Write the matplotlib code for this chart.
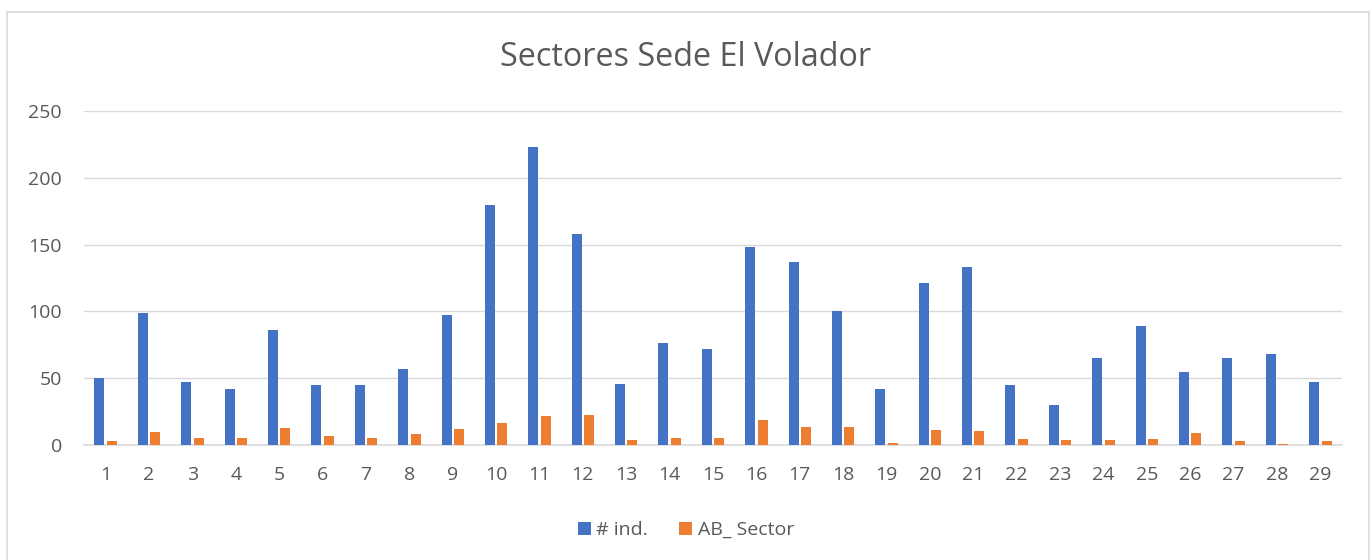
import matplotlib
matplotlib.use("Agg")
import matplotlib.pyplot as plt
import numpy as np
from matplotlib.patches import Rectangle

categories = [str(i) for i in range(1, 30)]
n_ind = [50, 99, 47, 42, 86, 45, 45, 57, 97, 180, 223, 158, 46, 76, 72,
         148, 137, 100, 42, 121, 133, 45, 30, 65, 89, 55, 65, 68, 47]
ab_sector = [3.2, 9.5, 5.5, 5.5, 12.5, 6.5, 5.3, 8.5, 12, 16.2, 22, 22.7, 3.7, 5.5, 5.5,
             18.7, 13.5, 13.5, 1.7, 11.5, 10.2, 4.7, 3.7, 4, 4.5, 9, 2.7, 0.5, 3.2]
yticks = [0, 50, 100, 150, 200, 250]

blue = "#4472C4"
orange = "#ED7D31"
txt = "#595959"

plt.rcParams['font.family'] = ['Open Sans', 'DejaVu Sans']

W, H = 1372, 560
fig = plt.figure(figsize=(W / 100, H / 100), dpi=100)
# chart border
fig.patches.append(Rectangle((7 / W, -10 / H), (1369 - 7) / W, (H - 12 + 10) / H,
                             transform=fig.transFigure, fill=False,
                             edgecolor="#d9d9d9", linewidth=1.2))

ax = fig.add_axes([84 / W, 1 - 445 / H, (1342 - 84) / W, (445 - 111) / H])
x = np.arange(len(categories))
w = 0.23
off = 0.143
ax.bar(x - off, n_ind, width=w, color=blue, label="# ind.", zorder=3)
ax.bar(x + off, ab_sector, width=w, color=orange, label="AB_ Sector", zorder=3)

ax.set_xlim(-0.5, len(categories) - 0.5)
ax.set_ylim(0, 250)
ax.set_yticks(yticks)
ax.set_xticks(x)
ax.set_xticklabels(categories)
ax.tick_params(axis='both', length=0, labelsize=14, colors=txt)
ax.tick_params(axis='x', pad=15)
ax.tick_params(axis='y', pad=16)
ax.grid(axis='y', color="#d9d9d9", linewidth=1, zorder=0)
for s in ['top', 'right', 'left']:
    ax.spines[s].set_visible(False)
ax.spines['bottom'].set_color("#d9d9d9")
ax.spines['bottom'].set_linewidth(1.2)

fig.text(0.5, 1 - 57 / H, "Sectores Sede El Volador", ha='center', va='center',
         fontsize=23.3, color=txt)

leg = fig.legend(loc='center', bbox_to_anchor=(0.5, 1 - 530 / H), ncol=2, frameon=False,
                 fontsize=14, handlelength=0.65, handleheight=0.65, handletextpad=0.3,
                 columnspacing=1.6)
for t in leg.get_texts():
    t.set_color(txt)

fig.savefig("out.png", dpi=100)
